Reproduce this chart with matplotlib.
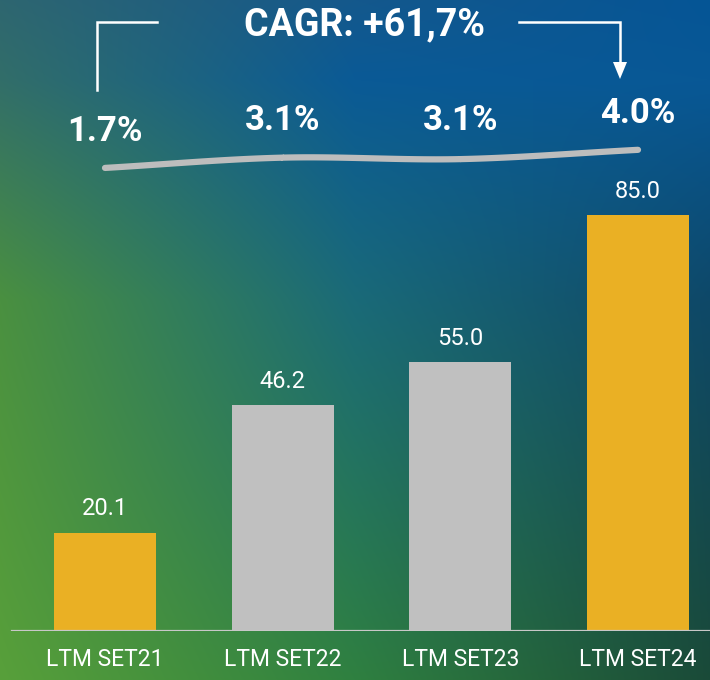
import numpy as np
import matplotlib
matplotlib.use("Agg")
import matplotlib.pyplot as plt
from matplotlib.patches import Polygon

# ---- data ----
categories = ["LTM SET21", "LTM SET22", "LTM SET23", "LTM SET24"]
values = [20.1, 46.2, 55.0, 85.0]
bar_colors = ["#EAB024", "#C0C0C0", "#C0C0C0", "#EAB024"]
growth_labels = ["1.7%", "3.1%", "3.1%", "4.0%"]
growth_y = [102.2, 104.3, 104.3, 105.9]
curve_y = [94.7, 96.8, 96.5, 98.4]
cagr_text = "CAGR: +61,7%"

plt.rcParams['font.family'] = ['Roboto', 'DejaVu Sans']

W, H = 710, 680
fig = plt.figure(figsize=(W / 100, H / 100), dpi=100)

# ---- gradient background ----
rows_y = np.array([0, 80, 300, 680], dtype=float)
cols_x = np.array([0, 355, 710], dtype=float)
grid = np.array([
    [(46, 102, 112), (20, 88, 140), (5, 85, 150)],
    [(50, 110, 105), (10, 90, 150), (8, 88, 150)],
    [(74, 144, 64), (26, 106, 120), (14, 72, 104)],
    [(88, 160, 58), (47, 128, 64), (26, 74, 56)],
], dtype=float) / 255.0
xs = np.arange(W) + 0.5
ys = np.arange(H) + 0.5
tmp = np.zeros((len(rows_y), W, 3))
for r in range(len(rows_y)):
    for c in range(3):
        tmp[r, :, c] = np.interp(xs, cols_x, grid[r, :, c])
img = np.zeros((H, W, 3))
for c in range(3):
    for j in range(W):
        img[:, j, c] = np.interp(ys, rows_y, tmp[:, j, c])
bg = fig.add_axes([0, 0, 1, 1], zorder=0)
bg.imshow(img, extent=[0, W, H, 0], aspect='auto', interpolation='bilinear')
bg.set_axis_off()

# ---- bar axes ----
ax = fig.add_axes([0, 49 / H, 1, 631 / H], zorder=1)
ax.patch.set_alpha(0)
x = np.arange(len(categories))
ax.bar(x, values, width=0.574, color=bar_colors, zorder=2)
ax.set_xlim(-105 / 177.67, (710 - 105) / 177.67)
ax.set_ylim(0, 631 / 4.89)
for s in ax.spines.values():
    s.set_visible(False)
ax.set_yticks([])
ax.set_xticks(x)
ax.set_xticklabels(categories, color='white', fontsize=16.5)
ax.tick_params(axis='x', length=0, pad=12)
ax.axhline(0, xmin=12 / W, xmax=1, color='#C8C8C8', lw=1.6, zorder=3)

for xi, v in zip(x, values):
    ax.annotate(f"{v:.1f}", (xi, v), xytext=(0, 12.5), textcoords='offset points',
                ha='center', va='baseline', color='white', fontsize=17)

# growth labels
for xi, lab, gy in zip(x, growth_labels, growth_y):
    ax.text(xi, gy, lab, ha='center', va='center', color='white',
            fontsize=25, fontweight='bold')

# smooth gray curve (Catmull-Rom through category points)
px = x.astype(float)
py = np.array(curve_y)
P = np.column_stack([px, py])
P_ext = np.vstack([2 * P[0] - P[1], P, 2 * P[-1] - P[-2]])
curve = []
for i in range(1, len(P_ext) - 2):
    p0, p1, p2, p3 = P_ext[i - 1], P_ext[i], P_ext[i + 1], P_ext[i + 2]
    t = np.linspace(0, 1, 30)[:, None]
    seg = 0.5 * ((2 * p1) + (-p0 + p2) * t + (2 * p0 - 5 * p1 + 4 * p2 - p3) * t ** 2
                 + (-p0 + 3 * p1 - 3 * p2 + p3) * t ** 3)
    curve.append(seg)
curve = np.vstack(curve)
ax.plot(curve[:, 0], curve[:, 1], color='#BDBDBD', lw=4.5, solid_capstyle='round', zorder=3)

# CAGR header and bracket arrows
def px2x(p):
    return (p - 105) / 177.67

def py2y(p):
    return (631 - p) / 4.89

ax.text(px2x(365), py2y(25), cagr_text, ha='center', va='center', color='white',
        fontsize=27, fontweight='bold')
ax.plot([px2x(97), px2x(97), px2x(157)], [py2y(90), py2y(22), py2y(22)],
        color='white', lw=1.8, solid_joinstyle='miter')
ax.plot([px2x(519), px2x(620), px2x(620)], [py2y(22), py2y(22), py2y(64)],
        color='white', lw=1.8, solid_joinstyle='miter')
ax.add_patch(Polygon([(px2x(613), py2y(62)), (px2x(627), py2y(62)), (px2x(620), py2y(79))],
                     closed=True, color='white', lw=0))

fig.savefig("out.png", dpi=100)
